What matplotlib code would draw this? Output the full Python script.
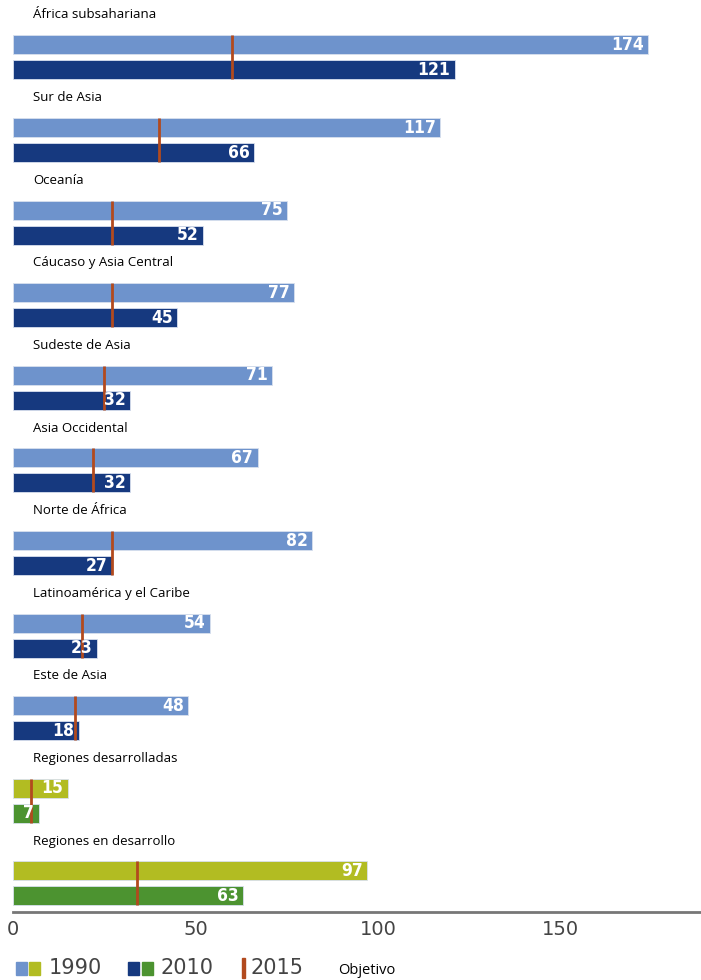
import numpy as np
import matplotlib.pyplot as plt
from matplotlib.patches import Rectangle

# Data: mortality per 1000 births, 1990 / 2010 and 2015 target
regions = ['África subsahariana', 'Sur de Asia', 'Oceanía', 'Cáucaso y Asia Central',
           'Sudeste de Asia', 'Asia Occidental', 'Norte de África',
           'Latinoamérica y el Caribe', 'Este de Asia', 'Regiones desarrolladas',
           'Regiones en desarrollo']
v1990 = [174, 117, 75, 77, 71, 67, 82, 54, 48, 15, 97]
v2010 = [121, 66, 52, 45, 32, 32, 27, 23, 18, 7, 63]
target = [60, 40, 27, 27, 25, 22, 27, 19, 17, 5, 34]
is_aggregate = [False] * 9 + [True] * 2
ticks = [0, 50, 100, 150]

c1990 = '#6e93cc'
c2010 = '#16397f'
g1990 = '#b2bc22'
g2010 = '#4c9330'
c_target = '#b24a1e'

W, H = 701, 980
fig = plt.figure(figsize=(W / 100, H / 100), dpi=100)
ax = fig.add_axes([13 / W, 68 / H, 688 / W, 912 / H])

step = 82.6
bar_h = 19
vfont = dict(ha='right', va='center', color='white', fontsize=12.5,
             fontweight='bold', family='DejaVu Sans', fontstretch='condensed')
for i, name in enumerate(regions):
    y0 = 15 + i * step
    y1 = y0 + 30
    y2 = y0 + 55
    col1 = g1990 if is_aggregate[i] else c1990
    col2 = g2010 if is_aggregate[i] else c2010
    ax.barh(y1, v1990[i], height=bar_h, color=col1, edgecolor='#d8e0ee', linewidth=0.6)
    ax.barh(y2, v2010[i], height=bar_h, color=col2, edgecolor='#d8e0ee', linewidth=0.6)
    ax.plot([target[i], target[i]], [y1 - bar_h / 2, y2 + bar_h / 2],
            color=c_target, lw=2, solid_capstyle='butt')
    ax.text(v1990[i] - 1.2, y1, str(v1990[i]), **vfont)
    ax.text(v2010[i] - 1.2, y2, str(v2010[i]), **vfont)
    ax.text(5.5, y0, name, ha='left', va='center', fontsize=9.5,
            family='Open Sans', color='black')

ax.set_xlim(0, 688 / 3.65)
ax.set_ylim(912, 0)
for s in ['top', 'right', 'left']:
    ax.spines[s].set_visible(False)
ax.spines['bottom'].set_color('#777777')
ax.spines['bottom'].set_linewidth(2)
ax.set_yticks([])
ax.set_xticks(ticks)
ax.tick_params(axis='x', length=0, pad=6, labelsize=14, labelcolor='#444444')

# Legend drawn by hand (pixel layout of the original)
def fx(px):
    return px / W

def fy(py):
    return 1 - py / H

ly = 968
for x0, col in [(16, c1990), (29, g1990), (128, c2010), (142, g2010)]:
    fig.add_artist(Rectangle((fx(x0), fy(ly + 6.5)), 11 / W, 13 / H,
                             transform=fig.transFigure, color=col))
fig.add_artist(Rectangle((fx(242), fy(ly + 10)), 3 / W, 20 / H,
                         transform=fig.transFigure, color=c_target))
for x0, txt in [(49, '1990'), (161, '2010'), (251, '2015')]:
    fig.text(fx(x0), fy(ly), txt, fontsize=15, color='#444444',
             va='center', ha='left')
fig.text(fx(338), fy(ly + 2), 'Objetivo', fontsize=10.5, family='Open Sans',
         va='center', ha='left')

fig.savefig('out.png', dpi=100)
